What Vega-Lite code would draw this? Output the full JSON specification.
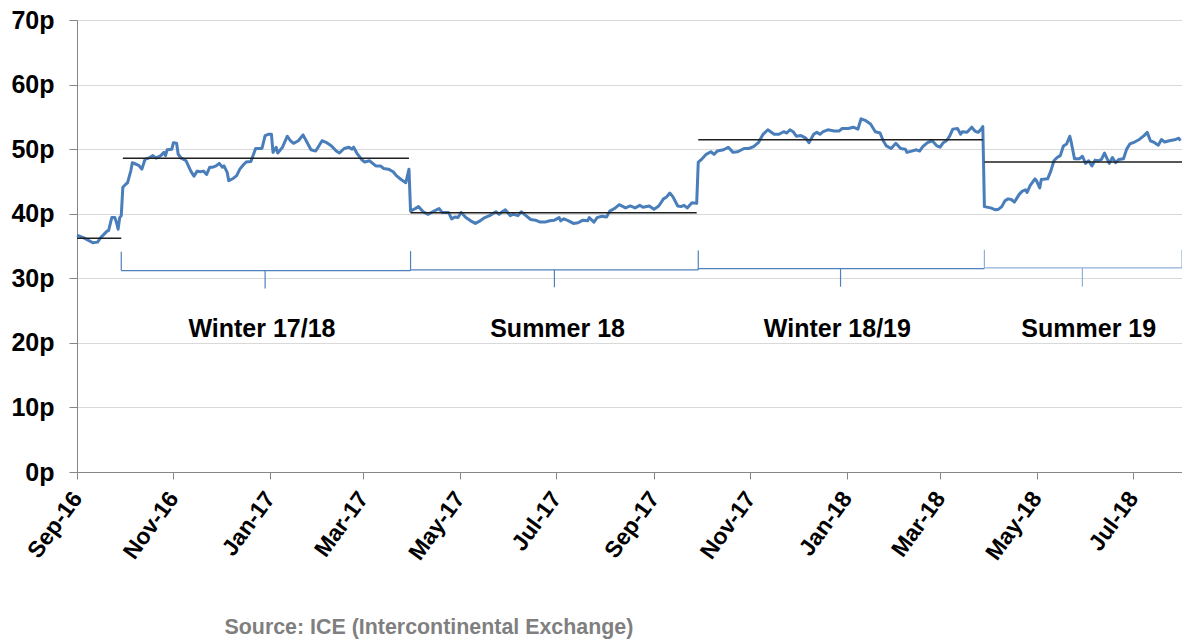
{
  "$schema": "https://vega.github.io/schema/vega-lite/v6.json",
  "width": 1105,
  "height": 452,
  "autosize": {"type": "none"},
  "padding": {"left": 77, "top": 20, "right": 0, "bottom": 167},
  "background": "white",
  "config": {"view": {"stroke": null}, "font": "Liberation Sans"},
  "layer": [
    {
      "data": {
        "format": {"parse": {"date": "date:'%Y-%m-%d'"}},
        "values": [
          {"date": "2016-09-01", "price": 36.7}, {"date": "2016-09-05", "price": 36.3}, {"date": "2016-09-08", "price": 35.9},
          {"date": "2016-09-11", "price": 35.5}, {"date": "2016-09-14", "price": 35.6}, {"date": "2016-09-16", "price": 36.3},
          {"date": "2016-09-18", "price": 36.8}, {"date": "2016-09-20", "price": 37.3}, {"date": "2016-09-21", "price": 37.4},
          {"date": "2016-09-23", "price": 39.4}, {"date": "2016-09-25", "price": 39.4}, {"date": "2016-09-26", "price": 38.6},
          {"date": "2016-09-27", "price": 37.6}, {"date": "2016-09-28", "price": 39.4}, {"date": "2016-09-29", "price": 39.7},
          {"date": "2016-09-30", "price": 44.1}, {"date": "2016-10-02", "price": 44.6}, {"date": "2016-10-03", "price": 44.8},
          {"date": "2016-10-05", "price": 46.6}, {"date": "2016-10-06", "price": 47.9}, {"date": "2016-10-08", "price": 47.7},
          {"date": "2016-10-10", "price": 47.5}, {"date": "2016-10-12", "price": 46.9}, {"date": "2016-10-14", "price": 48.4},
          {"date": "2016-10-17", "price": 48.7}, {"date": "2016-10-19", "price": 49.0}, {"date": "2016-10-21", "price": 48.6},
          {"date": "2016-10-24", "price": 49.0}, {"date": "2016-10-26", "price": 49.5}, {"date": "2016-10-27", "price": 49.0},
          {"date": "2016-10-28", "price": 49.9}, {"date": "2016-10-31", "price": 50.0}, {"date": "2016-11-01", "price": 51.0},
          {"date": "2016-11-03", "price": 50.9}, {"date": "2016-11-04", "price": 49.2}, {"date": "2016-11-06", "price": 48.6},
          {"date": "2016-11-09", "price": 48.2}, {"date": "2016-11-12", "price": 46.6}, {"date": "2016-11-14", "price": 45.8},
          {"date": "2016-11-16", "price": 46.6}, {"date": "2016-11-18", "price": 46.5}, {"date": "2016-11-20", "price": 46.6},
          {"date": "2016-11-22", "price": 46.1}, {"date": "2016-11-24", "price": 47.2}, {"date": "2016-11-26", "price": 47.2},
          {"date": "2016-11-28", "price": 47.4}, {"date": "2016-11-30", "price": 47.8}, {"date": "2016-12-02", "price": 47.2},
          {"date": "2016-12-03", "price": 47.4}, {"date": "2016-12-05", "price": 46.4}, {"date": "2016-12-06", "price": 45.1},
          {"date": "2016-12-09", "price": 45.5}, {"date": "2016-12-11", "price": 45.9}, {"date": "2016-12-13", "price": 46.9},
          {"date": "2016-12-15", "price": 47.5}, {"date": "2016-12-17", "price": 48.0}, {"date": "2016-12-20", "price": 48.1},
          {"date": "2016-12-23", "price": 50.1}, {"date": "2016-12-27", "price": 50.1}, {"date": "2016-12-29", "price": 52.1},
          {"date": "2016-12-31", "price": 52.3}, {"date": "2017-01-02", "price": 52.3}, {"date": "2017-01-03", "price": 49.5},
          {"date": "2017-01-05", "price": 50.3}, {"date": "2017-01-06", "price": 49.4}, {"date": "2017-01-09", "price": 50.3},
          {"date": "2017-01-12", "price": 52.0}, {"date": "2017-01-14", "price": 51.3}, {"date": "2017-01-16", "price": 50.9},
          {"date": "2017-01-19", "price": 51.3}, {"date": "2017-01-22", "price": 52.2}, {"date": "2017-01-24", "price": 51.3},
          {"date": "2017-01-27", "price": 49.9}, {"date": "2017-01-30", "price": 49.7}, {"date": "2017-02-01", "price": 50.5},
          {"date": "2017-02-03", "price": 51.3}, {"date": "2017-02-06", "price": 51.0}, {"date": "2017-02-09", "price": 50.5},
          {"date": "2017-02-12", "price": 49.7}, {"date": "2017-02-14", "price": 49.4}, {"date": "2017-02-17", "price": 50.1},
          {"date": "2017-02-20", "price": 50.3}, {"date": "2017-02-22", "price": 50.0}, {"date": "2017-02-23", "price": 50.3},
          {"date": "2017-02-25", "price": 49.4}, {"date": "2017-02-28", "price": 48.4}, {"date": "2017-03-02", "price": 48.0},
          {"date": "2017-03-05", "price": 48.2}, {"date": "2017-03-09", "price": 47.4}, {"date": "2017-03-12", "price": 47.4},
          {"date": "2017-03-14", "price": 47.0}, {"date": "2017-03-17", "price": 46.9}, {"date": "2017-03-20", "price": 46.5},
          {"date": "2017-03-22", "price": 45.9}, {"date": "2017-03-25", "price": 45.3}, {"date": "2017-03-28", "price": 44.8},
          {"date": "2017-03-30", "price": 46.9}, {"date": "2017-03-31", "price": 40.4}, {"date": "2017-04-03", "price": 40.8},
          {"date": "2017-04-05", "price": 41.1}, {"date": "2017-04-08", "price": 40.3}, {"date": "2017-04-11", "price": 39.9},
          {"date": "2017-04-14", "price": 40.3}, {"date": "2017-04-18", "price": 40.8}, {"date": "2017-04-20", "price": 40.2},
          {"date": "2017-04-24", "price": 40.2}, {"date": "2017-04-26", "price": 39.2}, {"date": "2017-04-28", "price": 39.5},
          {"date": "2017-04-30", "price": 39.4}, {"date": "2017-05-02", "price": 40.2}, {"date": "2017-05-05", "price": 39.4},
          {"date": "2017-05-08", "price": 38.9}, {"date": "2017-05-11", "price": 38.5}, {"date": "2017-05-14", "price": 38.9},
          {"date": "2017-05-17", "price": 39.4}, {"date": "2017-05-20", "price": 39.7}, {"date": "2017-05-24", "price": 40.3},
          {"date": "2017-05-26", "price": 39.9}, {"date": "2017-05-28", "price": 40.3}, {"date": "2017-05-30", "price": 40.6},
          {"date": "2017-06-02", "price": 39.7}, {"date": "2017-06-04", "price": 39.9}, {"date": "2017-06-07", "price": 39.7},
          {"date": "2017-06-09", "price": 40.3}, {"date": "2017-06-11", "price": 39.9}, {"date": "2017-06-15", "price": 39.1},
          {"date": "2017-06-18", "price": 39.0}, {"date": "2017-06-21", "price": 38.7}, {"date": "2017-06-24", "price": 38.7},
          {"date": "2017-06-27", "price": 38.9}, {"date": "2017-06-30", "price": 39.0}, {"date": "2017-07-03", "price": 39.4},
          {"date": "2017-07-04", "price": 38.9}, {"date": "2017-07-06", "price": 39.2}, {"date": "2017-07-09", "price": 38.9},
          {"date": "2017-07-12", "price": 38.5}, {"date": "2017-07-15", "price": 38.6}, {"date": "2017-07-18", "price": 39.0},
          {"date": "2017-07-21", "price": 38.9}, {"date": "2017-07-22", "price": 39.4}, {"date": "2017-07-25", "price": 38.7},
          {"date": "2017-07-27", "price": 39.4}, {"date": "2017-07-30", "price": 39.6}, {"date": "2017-08-02", "price": 39.5},
          {"date": "2017-08-04", "price": 40.4}, {"date": "2017-08-07", "price": 40.8}, {"date": "2017-08-10", "price": 41.4},
          {"date": "2017-08-14", "price": 40.9}, {"date": "2017-08-17", "price": 41.2}, {"date": "2017-08-20", "price": 40.9},
          {"date": "2017-08-23", "price": 41.3}, {"date": "2017-08-25", "price": 41.0}, {"date": "2017-08-29", "price": 41.2},
          {"date": "2017-09-01", "price": 40.7}, {"date": "2017-09-04", "price": 41.2}, {"date": "2017-09-07", "price": 42.3},
          {"date": "2017-09-09", "price": 42.6}, {"date": "2017-09-11", "price": 43.2}, {"date": "2017-09-13", "price": 42.6},
          {"date": "2017-09-16", "price": 41.2}, {"date": "2017-09-18", "price": 41.1}, {"date": "2017-09-20", "price": 41.3},
          {"date": "2017-09-22", "price": 40.9}, {"date": "2017-09-25", "price": 41.7}, {"date": "2017-09-28", "price": 41.6},
          {"date": "2017-09-29", "price": 48.0}, {"date": "2017-10-01", "price": 48.4}, {"date": "2017-10-04", "price": 49.2},
          {"date": "2017-10-07", "price": 49.6}, {"date": "2017-10-09", "price": 49.2}, {"date": "2017-10-11", "price": 49.7},
          {"date": "2017-10-15", "price": 49.9}, {"date": "2017-10-18", "price": 50.3}, {"date": "2017-10-21", "price": 49.5},
          {"date": "2017-10-24", "price": 49.6}, {"date": "2017-10-28", "price": 50.1}, {"date": "2017-10-31", "price": 50.1},
          {"date": "2017-11-03", "price": 50.4}, {"date": "2017-11-06", "price": 51.0}, {"date": "2017-11-09", "price": 52.3},
          {"date": "2017-11-12", "price": 53.0}, {"date": "2017-11-16", "price": 52.3}, {"date": "2017-11-19", "price": 52.3},
          {"date": "2017-11-22", "price": 52.7}, {"date": "2017-11-24", "price": 52.5}, {"date": "2017-11-26", "price": 53.0},
          {"date": "2017-11-28", "price": 52.7}, {"date": "2017-11-30", "price": 52.0}, {"date": "2017-12-03", "price": 52.1},
          {"date": "2017-12-06", "price": 51.7}, {"date": "2017-12-08", "price": 51.0}, {"date": "2017-12-11", "price": 52.3},
          {"date": "2017-12-13", "price": 52.6}, {"date": "2017-12-15", "price": 52.3}, {"date": "2017-12-17", "price": 52.7},
          {"date": "2017-12-20", "price": 53.0}, {"date": "2017-12-24", "price": 52.8}, {"date": "2017-12-27", "price": 52.8},
          {"date": "2017-12-29", "price": 53.2}, {"date": "2018-01-02", "price": 53.2}, {"date": "2018-01-05", "price": 53.4},
          {"date": "2018-01-08", "price": 53.1}, {"date": "2018-01-10", "price": 54.7}, {"date": "2018-01-13", "price": 54.4},
          {"date": "2018-01-16", "price": 53.9}, {"date": "2018-01-19", "price": 52.7}, {"date": "2018-01-22", "price": 52.5},
          {"date": "2018-01-24", "price": 51.3}, {"date": "2018-01-26", "price": 50.5}, {"date": "2018-01-29", "price": 50.1},
          {"date": "2018-02-01", "price": 50.9}, {"date": "2018-02-04", "price": 50.1}, {"date": "2018-02-07", "price": 50.0},
          {"date": "2018-02-08", "price": 49.5}, {"date": "2018-02-11", "price": 49.7}, {"date": "2018-02-14", "price": 49.9},
          {"date": "2018-02-16", "price": 49.7}, {"date": "2018-02-18", "price": 50.4}, {"date": "2018-02-21", "price": 51.0},
          {"date": "2018-02-24", "price": 51.3}, {"date": "2018-02-27", "price": 50.5}, {"date": "2018-03-01", "price": 50.3},
          {"date": "2018-03-03", "price": 51.0}, {"date": "2018-03-05", "price": 51.3}, {"date": "2018-03-07", "price": 52.0},
          {"date": "2018-03-09", "price": 53.1}, {"date": "2018-03-12", "price": 53.2}, {"date": "2018-03-14", "price": 52.3},
          {"date": "2018-03-15", "price": 52.7}, {"date": "2018-03-18", "price": 52.6}, {"date": "2018-03-21", "price": 53.4},
          {"date": "2018-03-23", "price": 52.8}, {"date": "2018-03-25", "price": 52.6}, {"date": "2018-03-27", "price": 53.1},
          {"date": "2018-03-28", "price": 53.5}, {"date": "2018-03-29", "price": 41.1}, {"date": "2018-04-02", "price": 40.9},
          {"date": "2018-04-05", "price": 40.6}, {"date": "2018-04-07", "price": 40.7}, {"date": "2018-04-09", "price": 41.1},
          {"date": "2018-04-11", "price": 42.0}, {"date": "2018-04-13", "price": 42.3}, {"date": "2018-04-15", "price": 42.2},
          {"date": "2018-04-17", "price": 41.8}, {"date": "2018-04-20", "price": 43.0}, {"date": "2018-04-22", "price": 43.5},
          {"date": "2018-04-24", "price": 43.7}, {"date": "2018-04-25", "price": 43.3}, {"date": "2018-04-27", "price": 44.4},
          {"date": "2018-04-30", "price": 45.4}, {"date": "2018-05-01", "price": 45.1}, {"date": "2018-05-03", "price": 44.0},
          {"date": "2018-05-04", "price": 45.3}, {"date": "2018-05-08", "price": 45.4}, {"date": "2018-05-10", "price": 46.6},
          {"date": "2018-05-12", "price": 48.2}, {"date": "2018-05-14", "price": 48.7}, {"date": "2018-05-16", "price": 49.0},
          {"date": "2018-05-18", "price": 50.5}, {"date": "2018-05-20", "price": 50.8}, {"date": "2018-05-22", "price": 52.0},
          {"date": "2018-05-23", "price": 51.0}, {"date": "2018-05-25", "price": 48.5}, {"date": "2018-05-28", "price": 48.5},
          {"date": "2018-05-30", "price": 48.9}, {"date": "2018-06-01", "price": 47.8}, {"date": "2018-06-03", "price": 48.2},
          {"date": "2018-06-05", "price": 47.4}, {"date": "2018-06-07", "price": 48.3}, {"date": "2018-06-09", "price": 48.2},
          {"date": "2018-06-11", "price": 48.4}, {"date": "2018-06-13", "price": 49.4}, {"date": "2018-06-16", "price": 47.8},
          {"date": "2018-06-18", "price": 48.7}, {"date": "2018-06-20", "price": 47.9}, {"date": "2018-06-22", "price": 48.4},
          {"date": "2018-06-25", "price": 48.5}, {"date": "2018-06-27", "price": 50.0}, {"date": "2018-06-29", "price": 50.8},
          {"date": "2018-07-02", "price": 51.1}, {"date": "2018-07-05", "price": 51.5}, {"date": "2018-07-06", "price": 51.7},
          {"date": "2018-07-08", "price": 52.1}, {"date": "2018-07-10", "price": 52.6}, {"date": "2018-07-12", "price": 51.3},
          {"date": "2018-07-14", "price": 51.1}, {"date": "2018-07-17", "price": 50.6}, {"date": "2018-07-19", "price": 51.5},
          {"date": "2018-07-21", "price": 51.1}, {"date": "2018-07-24", "price": 51.3}, {"date": "2018-07-28", "price": 51.5},
          {"date": "2018-07-30", "price": 51.7}, {"date": "2018-07-31", "price": 51.3}
        ]
      },
      "mark": {"type": "line", "color": "#4a7ebb", "strokeWidth": 3, "strokeJoin": "round"},
      "encoding": {
        "x": {
          "field": "date", "type": "temporal",
          "scale": {"domain": [{"year": 2016, "month": 9, "date": 1}, {"year": 2018, "month": 8, "date": 1}]},
          "axis": {
            "values": [
              {"year": 2016, "month": 9, "date": 1}, {"year": 2016, "month": 11, "date": 1},
              {"year": 2017, "month": 1, "date": 1}, {"year": 2017, "month": 3, "date": 1},
              {"year": 2017, "month": 5, "date": 1}, {"year": 2017, "month": 7, "date": 1},
              {"year": 2017, "month": 9, "date": 1}, {"year": 2017, "month": 11, "date": 1},
              {"year": 2018, "month": 1, "date": 1}, {"year": 2018, "month": 3, "date": 1},
              {"year": 2018, "month": 5, "date": 1}, {"year": 2018, "month": 7, "date": 1}
            ],
            "format": "%b-%y",
            "labelAngle": -54, "labelAlign": "right", "labelBaseline": "middle",
            "labelFontSize": 23, "labelFontWeight": "bold", "labelColor": "#000000",
            "labelOverlap": false, "labelFlush": false, "labelPadding": 15,
            "tickSize": 7, "tickColor": "#868686", "domainColor": "#868686", "grid": false,
            "title": "Source: ICE (Intercontinental Exchange)",
            "titleX": 147, "titleY": 161, "titleAlign": "left", "titleBaseline": "alphabetic", "titleAngle": 0,
            "titleFontSize": 21.4, "titleFontWeight": "bold", "titleColor": "#7f7f7f"
          }
        },
        "y": {
          "field": "price", "type": "quantitative",
          "scale": {"domain": [0, 70], "nice": false},
          "axis": {
            "values": [0, 10, 20, 30, 40, 50, 60, 70],
            "labelExpr": "datum.value + 'p'",
            "labelFontSize": 25, "labelFontWeight": "bold", "labelColor": "#000000",
            "labelPadding": 15, "tickSize": 8, "tickColor": "#868686", "domainColor": "#868686",
            "gridColor": "#d9d9d9", "title": null
          }
        }
      }
    },
    {
      "data": {
        "format": {"parse": {"start": "date:'%Y-%m-%d'", "end": "date:'%Y-%m-%d'"}},
        "values": [
          {"start": "2016-09-01", "end": "2016-09-29", "avg": 36.2},
          {"start": "2016-09-30", "end": "2017-03-30", "avg": 48.6},
          {"start": "2017-03-31", "end": "2017-09-28", "avg": 40.15},
          {"start": "2017-09-29", "end": "2018-03-28", "avg": 51.45},
          {"start": "2018-03-29", "end": "2018-08-01", "avg": 48.0}
        ]
      },
      "mark": {"type": "rule", "color": "#1f1f1f", "strokeWidth": 1.5},
      "encoding": {
        "x": {"field": "start", "type": "temporal"},
        "x2": {"field": "end"},
        "y": {"field": "avg", "type": "quantitative"}
      }
    },
    {
      "data": {
        "format": {"parse": {"start": "date:'%Y-%m-%d'", "end": "date:'%Y-%m-%d'"}},
        "values": [
          {"start": "2016-09-29", "end": "2017-03-31", "lo": 31.2, "hi": 31.2, "grp": "a"},
          {"start": "2016-09-29", "end": "2016-09-29", "lo": 31.2, "hi": 34.1, "grp": "a"},
          {"start": "2016-12-29", "end": "2016-12-29", "lo": 31.2, "hi": 28.4, "grp": "a"},
          {"start": "2017-03-31", "end": "2017-09-29", "lo": 31.3, "hi": 31.3, "grp": "a"},
          {"start": "2017-03-31", "end": "2017-03-31", "lo": 31.2, "hi": 34.2, "grp": "a"},
          {"start": "2017-06-30", "end": "2017-06-30", "lo": 31.3, "hi": 28.6, "grp": "a"},
          {"start": "2017-09-29", "end": "2018-03-29", "lo": 31.5, "hi": 31.5, "grp": "a"},
          {"start": "2017-09-29", "end": "2017-09-29", "lo": 31.3, "hi": 34.3, "grp": "a"},
          {"start": "2017-12-28", "end": "2017-12-28", "lo": 31.5, "hi": 28.7, "grp": "a"},
          {"start": "2018-03-29", "end": "2018-08-01", "lo": 31.6, "hi": 31.6, "grp": "b"},
          {"start": "2018-03-29", "end": "2018-03-29", "lo": 31.5, "hi": 34.4, "grp": "b"},
          {"start": "2018-05-30", "end": "2018-05-30", "lo": 31.6, "hi": 28.7, "grp": "b"},
          {"start": "2018-08-01", "end": "2018-08-01", "lo": 31.6, "hi": 34.4, "grp": "b"}
        ]
      },
      "mark": {"type": "rule", "strokeWidth": 1.2},
      "encoding": {
        "x": {"field": "start", "type": "temporal"},
        "x2": {"field": "end"},
        "y": {"field": "lo", "type": "quantitative"},
        "y2": {"field": "hi"},
        "color": {"field": "grp", "type": "nominal", "legend": null,
                  "scale": {"domain": ["a", "b"], "range": ["#4f81bd", "#8fb0da"]}}
      }
    },
    {
      "data": {
        "format": {"parse": {"date": "date:'%Y-%m-%d'"}},
        "values": [
          {"date": "2016-12-27", "pos": 22.1, "season": "Winter 17/18"},
          {"date": "2017-07-02", "pos": 22.1, "season": "Summer 18"},
          {"date": "2017-12-26", "pos": 22.1, "season": "Winter 18/19"},
          {"date": "2018-06-03", "pos": 22.1, "season": "Summer 19"}
        ]
      },
      "mark": {"type": "text", "fontSize": 25, "fontWeight": "bold", "color": "#000000", "align": "center", "baseline": "middle"},
      "encoding": {
        "x": {"field": "date", "type": "temporal"},
        "y": {"field": "pos", "type": "quantitative"},
        "text": {"field": "season"}
      }
    }
  ]
}
